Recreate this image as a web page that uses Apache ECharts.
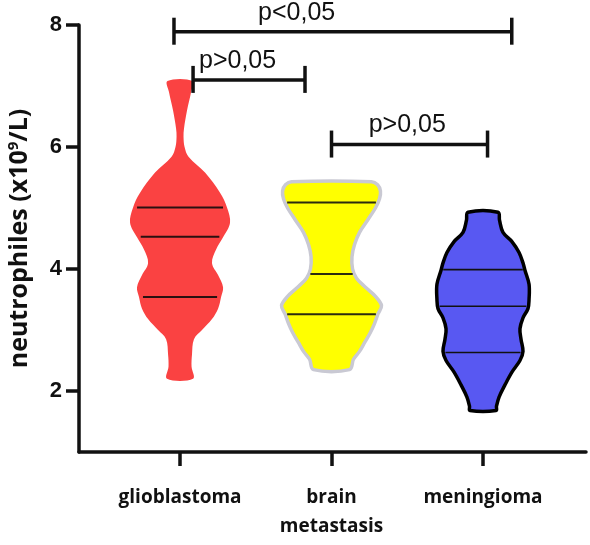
<!DOCTYPE html>
<html lang="en">
<head>
  <meta charset="UTF-8" />
  <title>Neutrophiles violin plot</title>
  <script src="https://cdn.jsdelivr.net/npm/echarts@6.0.0/dist/echarts.min.js"></script>
  <style>
    html, body { margin: 0; padding: 0; background: #fff; }
  </style>
</head>
<body>
  <div id="main" style="width: 590px; height: 545px;"></div>

  <script>
    // groups on the x axis (positions 0, 1, 2)
    const categories = ["glioblastoma", "brain\nmetastasis", "meningioma"];
    const yTicks = [2, 4, 6, 8];

    // violin outlines: value levels and half widths (in x-axis units)
    const glioLevels = [2.2, 2.4, 2.6, 2.85, 3.0, 3.18, 3.35, 3.54, 3.7, 3.9, 4.1, 4.32, 4.52, 4.76, 5.01, 5.25, 5.58, 5.84, 6.0, 6.17, 6.3, 6.6, 6.9, 7.08];
    const glioWidths = [0.086, 0.076, 0.079, 0.092, 0.145, 0.211, 0.251, 0.271, 0.284, 0.251, 0.211, 0.238, 0.284, 0.33, 0.31, 0.264, 0.165, 0.056, 0.03, 0.023, 0.026, 0.046, 0.073, 0.083];

    const metaLevels = [2.35, 2.52, 2.65, 2.8, 2.95, 3.1, 3.26, 3.4, 3.55, 3.7, 3.85, 4.0, 4.2, 4.4, 4.6, 4.8, 5.0, 5.15, 5.28, 5.38, 5.43];
    const metaWidths = [0.119, 0.145, 0.185, 0.22, 0.255, 0.283, 0.306, 0.33, 0.29, 0.224, 0.165, 0.139, 0.135, 0.152, 0.185, 0.238, 0.29, 0.317, 0.323, 0.304, 0.264];

    const meningLevels = [1.68, 1.75, 1.9, 2.1, 2.31, 2.5, 2.65, 2.85, 3.02, 3.2, 3.35, 3.5, 3.75, 3.98, 4.1, 4.27, 4.45, 4.6, 4.8, 4.93];
    const meningWidths = [0.086, 0.089, 0.106, 0.145, 0.191, 0.244, 0.264, 0.251, 0.244, 0.264, 0.297, 0.304, 0.304, 0.277, 0.264, 0.238, 0.191, 0.132, 0.109, 0.099];

    // Q1, median, Q3 per group
    const quartiles = [
      [3.54, 4.53, 5.01],
      [3.26, 3.92, 5.09],
      [2.63, 3.39, 3.99],
    ];

    // significance brackets
    const bracketFrom = [-0.04, 0.086, 1.0];
    const bracketTo = [2.19, 0.825, 2.03];
    const bracketY = [7.89, 7.1, 6.04];
    const bracketTextX = [0.77, 0.38, 1.5];
    const bracketText = ["p<0,05", "p>0,05", "p>0,05"];

    const levels = [glioLevels, metaLevels, meningLevels];
    const widths = [glioWidths, metaWidths, meningWidths];
    const violinStyle = [
      { fill: "#fa4242", stroke: null, lineWidth: 0, q: "#2a1010", qw: 2 },
      { fill: "#ffff00", stroke: "#c9c9d3", lineWidth: 3.5, q: "#2b2b10", qw: 2 },
      { fill: "#5858f2", stroke: "#000", lineWidth: 3.5, q: "#111", qw: 1.6 },
    ];

    function widthAt(lv, w, v) {
      for (let k = 0; k < lv.length - 1; k++) {
        if (v >= lv[k] && v <= lv[k + 1]) {
          const t = (v - lv[k]) / (lv[k + 1] - lv[k]);
          return w[k] + t * (w[k + 1] - w[k]);
        }
      }
      return 0;
    }

    function renderViolin(params, api) {
      const i = params.dataIndex;
      const lv = levels[i], w = widths[i], st = violinStyle[i];
      const pts = [];
      for (let k = 0; k < lv.length; k++) pts.push(api.coord([i + w[k], lv[k]]));
      for (let k = lv.length - 1; k >= 0; k--) pts.push(api.coord([i - w[k], lv[k]]));
      const children = [
        {
          type: "polygon",
          shape: { points: pts, smooth: 0.35 },
          style: { fill: st.fill, stroke: st.stroke, lineWidth: st.lineWidth },
        },
      ];
      quartiles[i].forEach((q) => {
        const hw = widthAt(lv, w, q);
        const a = api.coord([i - hw, q]);
        const b = api.coord([i + hw, q]);
        const inset = st.stroke ? 2 : 4;
        children.push({
          type: "line",
          shape: { x1: a[0] + inset, y1: a[1], x2: b[0] - inset, y2: b[1] },
          style: { stroke: st.q, lineWidth: st.qw },
        });
      });
      return { type: "group", children };
    }

    function renderBracket(params, api) {
      const i = params.dataIndex;
      const a = api.coord([bracketFrom[i], bracketY[i]]);
      const b = api.coord([bracketTo[i], bracketY[i]]);
      const t = api.coord([bracketTextX[i], bracketY[i]]);
      const lineStyle = { stroke: "#111", lineWidth: 3.5 };
      return {
        type: "group",
        children: [
          { type: "line", shape: { x1: a[0], y1: a[1], x2: b[0], y2: b[1] }, style: lineStyle },
          { type: "line", shape: { x1: a[0], y1: a[1] - 14, x2: a[0], y2: a[1] + 13 }, style: lineStyle },
          { type: "line", shape: { x1: b[0], y1: b[1] - 14, x2: b[0], y2: b[1] + 13 }, style: lineStyle },
          {
            type: "text",
            x: t[0],
            y: t[1] - 19,
            style: {
              text: bracketText[i],
              font: "25px 'Liberation Sans', Arial, sans-serif",
              fill: "#111",
              align: "center",
              verticalAlign: "middle",
            },
          },
        ],
      };
    }

    const myChart = echarts.init(document.getElementById("main"));

    const option = {
      animation: false,
      grid: { left: 79, right: 4, top: 25, bottom: 93, outerBoundsMode: "none" },
      xAxis: {
        type: "value",
        min: -0.667,
        max: 2.68,
        splitLine: { show: false },
        axisLine: { onZero: false, lineStyle: { color: "#111", width: 3.5 } },
        axisTick: {
          customValues: [0, 1, 2],
          length: 14,
          lineStyle: { color: "#111", width: 3.5 },
        },
        axisLabel: {
          customValues: [0, 1, 2],
          formatter: (v) => categories[Math.round(v)],
          margin: 31,
          fontFamily: "'Open Sans', sans-serif",
          fontWeight: "bold",
          fontSize: 19,
          lineHeight: 29,
          color: "#111",
        },
      },
      yAxis: {
        type: "value",
        min: 1,
        max: 8,
        splitLine: { show: false },
        axisLine: { show: true, onZero: false, lineStyle: { color: "#111", width: 3.5 } },
        axisTick: {
          show: true,
          customValues: yTicks,
          length: 13,
          lineStyle: { color: "#111", width: 3.5 },
        },
        axisLabel: {
          customValues: yTicks,
          margin: 17,
          fontFamily: "'Liberation Sans', Arial, sans-serif",
          fontWeight: "bold",
          fontSize: 22,
          color: "#111",
        },
        name: "neutrophiles (x10{sup|9}/L)",
        nameLocation: "middle",
        nameGap: 46,
        nameTextStyle: {
          fontFamily: "'Open Sans', sans-serif",
          fontWeight: "bold",
          fontSize: 25,
          color: "#111",
          rich: {
            sup: {
              fontFamily: "'Open Sans', sans-serif",
              fontWeight: "bold",
              fontSize: 15,
              color: "#111",
              verticalAlign: "top",
              padding: [0, 0, 12, 0],
            },
          },
        },
      },
      series: [
        {
          type: "custom",
          renderItem: renderViolin,
          data: categories.map((_, i) => [i, 4]),
          encode: { x: 0, y: 1 },
          z: 2,
        },
        {
          type: "custom",
          renderItem: renderBracket,
          data: bracketText.map((_, i) => [bracketFrom[i], bracketY[i]]),
          encode: { x: 0, y: 1 },
          z: 3,
        },
      ],
    };

    myChart.setOption(option);
  </script>
</body>
</html>
